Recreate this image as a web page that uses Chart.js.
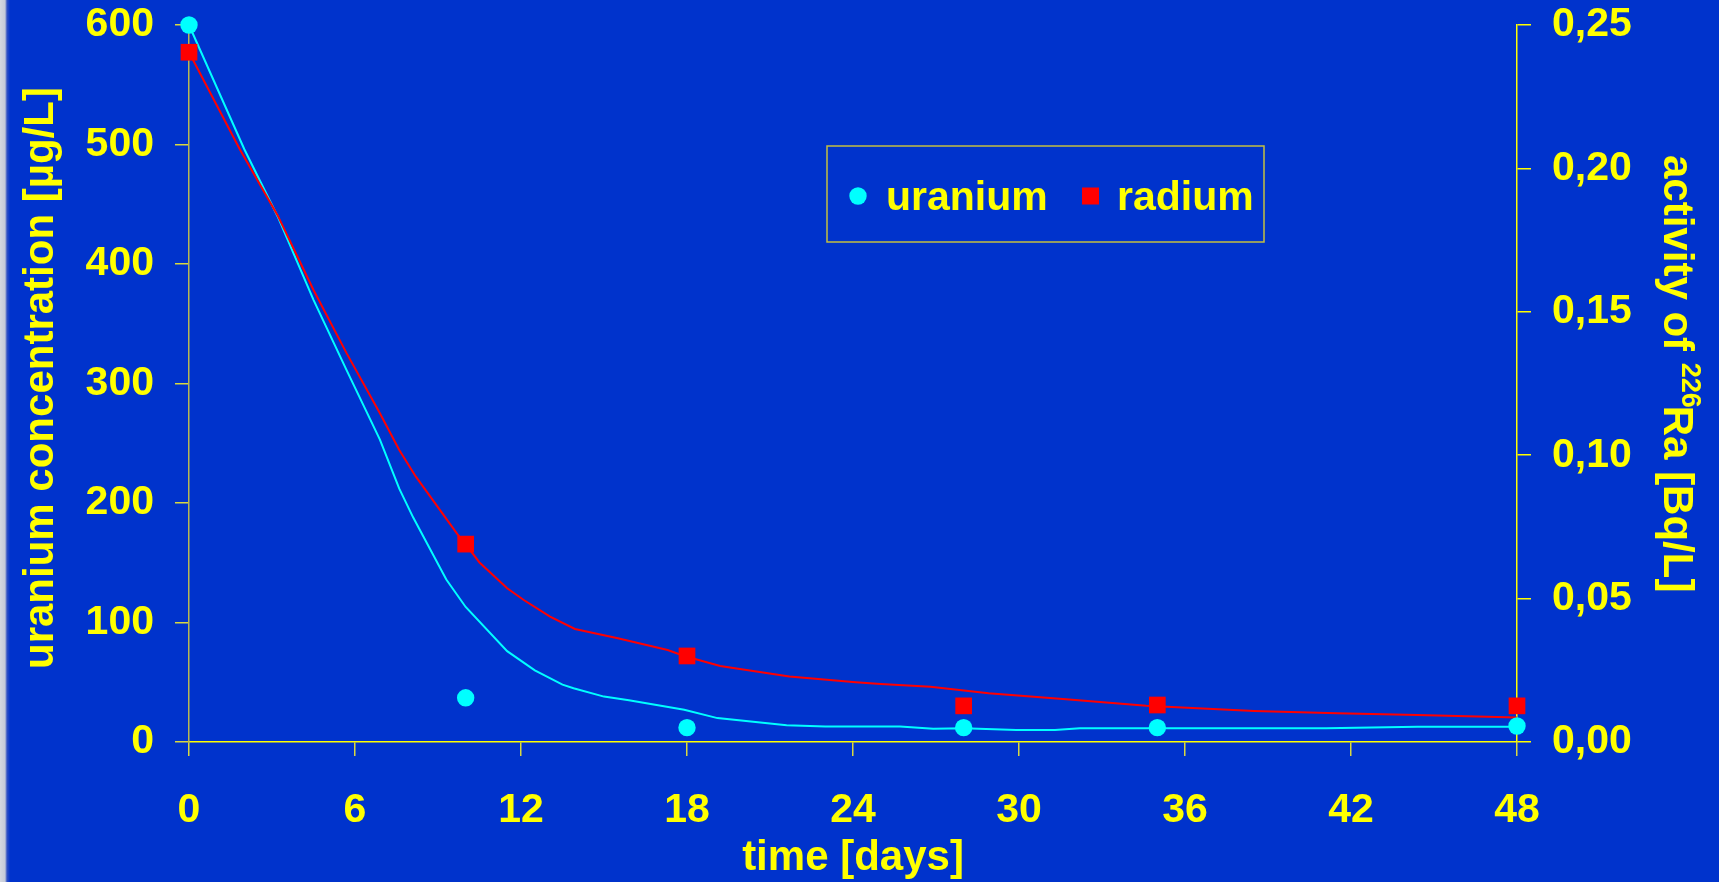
<!DOCTYPE html>
<html>
<head>
<meta charset="utf-8">
<title>uranium and radium removal</title>
<script src="https://cdn.jsdelivr.net/npm/chart.js@4.4.0/dist/chart.umd.min.js"></script>
<style>
  html, body { margin: 0; padding: 0; }
  body {
    width: 1719px;
    height: 882px;
    overflow: hidden;
    background: linear-gradient(to right, #d4d8e0 0px, #c4cad8 5px, #2f4fc4 7px, #0033cc 10px);
  }
  #chart { display: block; }
</style>
</head>
<body>
<canvas id="chart" width="1719" height="882"></canvas>
<script>
// measured values
const measureDays = [0, 10, 18, 28, 35, 48];
const uraniumValues = [600, 37, 12, 12, 12, 13.4];
const radiumValues = [0.2405, 0.069, 0.030, 0.0126, 0.0129, 0.0126];

// fitted curves
const uraniumCurveDays = [0, 2, 3.2, 4.5, 5.7, 6.9, 7.6, 8.1, 9.3, 10, 11.5, 12.5, 13.5, 13.9, 15, 15.9, 17.9, 19.1, 21.6, 23, 25.7, 26.9, 28, 29.9, 31.3, 32.2, 35.5, 41.1, 44.4, 48];
const uraniumCurve = [600, 496, 440, 370, 311, 253, 212, 188, 136, 113, 76, 60, 48, 45, 38, 35, 27, 20, 14, 13, 13, 11, 11.5, 10, 10, 11.5, 11.5, 11.5, 12.8, 12.8];
const radiumCurveDays = [0, 1.85, 3.2, 4.5, 5.7, 6.9, 7.6, 8.2, 9.7, 10, 10.5, 11.5, 12.1, 13.05, 13.95, 15.5, 17.3, 17.9, 19.2, 21.7, 24.1, 25, 26.8, 28.9, 31.7, 34.6, 38.5, 41.5, 44.4, 48];
const radiumCurve = [0.2405, 0.2064, 0.1837, 0.1576, 0.1355, 0.1146, 0.1018, 0.0925, 0.0725, 0.0689, 0.0626, 0.0536, 0.0495, 0.0437, 0.0394, 0.0362, 0.0321, 0.0300, 0.0265, 0.0228, 0.0208, 0.0202, 0.0193, 0.0170, 0.0149, 0.0126, 0.0108, 0.0100, 0.0094, 0.0085];

// ticks and labels
const dayTicks = [0, 6, 12, 18, 24, 30, 36, 42, 48];
const uraniumTicks = [0, 100, 200, 300, 400, 500, 600];
const activityTicks = [0, 0.05, 0.10, 0.15, 0.20, 0.25];
const seriesNames = ['uranium', 'radium'];
const xTitle = 'time [days]';
const leftTitle = 'uranium concentration [µg/L]';
const rightTitle = ['activity of ', '226', 'Ra [Bq/L]'];

const yellow = '#ffff00';
const cyan = '#00ffff';
const red = '#ff0000';
const family = '"Liberation Sans", Arial, sans-serif';
const tickFont = { family: family, size: 41, weight: 'bold' };
const titleFont = 'bold 42px ' + family;

function toPoints(xs, ys) {
    return xs.map((x, i) => ({ x: x, y: ys[i] }));
}

// keep the side axes from pushing the plot down
function fixSide(width) {
    return s => {
        s.width = width;
        s.paddingTop = 0;
        s.paddingBottom = 0;
    };
}

// titles, superscript and the boxed legend
const decorations = {
    id: 'decorations',
    afterDraw(chart) {
        const { ctx, chartArea: a } = chart;
        const ds = chart.data.datasets;
        ctx.save();
        ctx.fillStyle = yellow;
        ctx.textBaseline = 'alphabetic';
        ctx.font = titleFont;

        // x title
        ctx.textAlign = 'center';
        ctx.fillText(xTitle, (a.left + a.right) / 2, a.bottom + 128);

        // left title, reads bottom to top
        ctx.textAlign = 'left';
        ctx.save();
        ctx.translate(a.left - 136, a.top + 644);
        ctx.rotate(-Math.PI / 2);
        ctx.fillText(leftTitle, 0, 0);
        ctx.restore();

        // right title, reads top to bottom, with superscript
        ctx.save();
        ctx.translate(a.right + 147, a.top + 130);
        ctx.rotate(Math.PI / 2);
        let x = 0;
        ctx.font = titleFont;
        ctx.fillText(rightTitle[0], x, 0);
        x += ctx.measureText(rightTitle[0]).width;
        ctx.font = 'bold 27px ' + family;
        ctx.fillText(rightTitle[1], x, -18);
        x += ctx.measureText(rightTitle[1]).width - 2;
        ctx.font = titleFont;
        ctx.fillText(rightTitle[2], x, 0);
        ctx.restore();

        // legend box
        const bx = a.left + 638, by = a.top + 121, bw = 437, bh = 96;
        ctx.strokeStyle = '#c4c040';
        ctx.lineWidth = 1.5;
        ctx.strokeRect(bx, by, bw, bh);
        const midY = by + 50;
        ctx.fillStyle = ds[0].backgroundColor;
        ctx.beginPath();
        ctx.arc(bx + 31, midY, 8.7, 0, Math.PI * 2);
        ctx.fill();
        ctx.fillStyle = ds[1].backgroundColor;
        ctx.fillRect(bx + 255, midY - 8.5, 17, 17);
        ctx.fillStyle = yellow;
        ctx.font = 'bold 41px ' + family;
        ctx.fillText(seriesNames[0], bx + 59, by + 64);
        ctx.fillText(seriesNames[1], bx + 290, by + 64);
        ctx.restore();
    }
};

new Chart(document.getElementById('chart'), {
    type: 'scatter',
    data: {
        datasets: [
            {
                label: seriesNames[0],
                data: toPoints(measureDays, uraniumValues),
                yAxisID: 'yU',
                pointStyle: 'circle',
                pointRadius: 8.7,
                backgroundColor: cyan,
                borderWidth: 0,
                clip: false,
                order: 0
            },
            {
                label: seriesNames[1],
                data: toPoints(measureDays, radiumValues),
                yAxisID: 'yR',
                pointStyle: 'rect',
                pointRadius: 11.8,
                backgroundColor: red,
                borderWidth: 0,
                clip: false,
                order: 0
            },
            {
                label: 'uranium fit',
                data: toPoints(uraniumCurveDays, uraniumCurve),
                yAxisID: 'yU',
                showLine: true,
                pointRadius: 0,
                borderColor: cyan,
                borderWidth: 2,
                tension: 0,
                clip: false,
                order: 2
            },
            {
                label: 'radium fit',
                data: toPoints(radiumCurveDays, radiumCurve),
                yAxisID: 'yR',
                showLine: true,
                pointRadius: 0,
                borderColor: red,
                borderWidth: 2,
                tension: 0,
                clip: false,
                order: 1
            }
        ]
    },
    options: {
        responsive: false,
        animation: false,
        devicePixelRatio: 1,
        layout: { padding: { top: 25, left: 0, right: 0, bottom: 0 } },
        plugins: {
            legend: { display: false },
            tooltip: { enabled: false }
        },
        scales: {
            x: {
                type: 'linear',
                min: 0,
                max: 48,
                afterBuildTicks: s => { s.ticks = dayTicks.map(v => ({ value: v })); },
                afterFit: s => { s.height = 140; s.paddingLeft = 0; s.paddingRight = 0; },
                border: { display: true, color: yellow, width: 1.5 },
                grid: { drawOnChartArea: false, drawTicks: true, tickLength: 14, tickColor: '#d8d840', lineWidth: 1.5 },
                ticks: { color: yellow, font: tickFont, padding: 30, maxRotation: 0, autoSkip: false }
            },
            yU: {
                type: 'linear',
                position: 'left',
                min: 0,
                max: 600,
                afterBuildTicks: s => { s.ticks = uraniumTicks.map(v => ({ value: v })); },
                afterFit: fixSide(189),
                border: { display: true, color: '#b8b850', width: 1.5 },
                grid: { drawOnChartArea: false, drawTicks: true, tickLength: 14, tickColor: '#d8d840', lineWidth: 1.5 },
                ticks: { color: yellow, font: tickFont, padding: 21 }
            },
            yR: {
                type: 'linear',
                position: 'right',
                min: 0,
                max: 0.25,
                afterBuildTicks: s => { s.ticks = activityTicks.map(v => ({ value: v })); },
                afterFit: fixSide(202),
                border: { display: true, color: yellow, width: 1.5 },
                grid: { drawOnChartArea: false, drawTicks: true, tickLength: 14, tickColor: yellow, lineWidth: 1.5 },
                ticks: {
                    color: yellow,
                    font: tickFont,
                    padding: 21,
                    callback: v => v.toFixed(2).replace('.', ',')
                }
            }
        }
    },
    plugins: [decorations]
});
</script>
</body>
</html>
